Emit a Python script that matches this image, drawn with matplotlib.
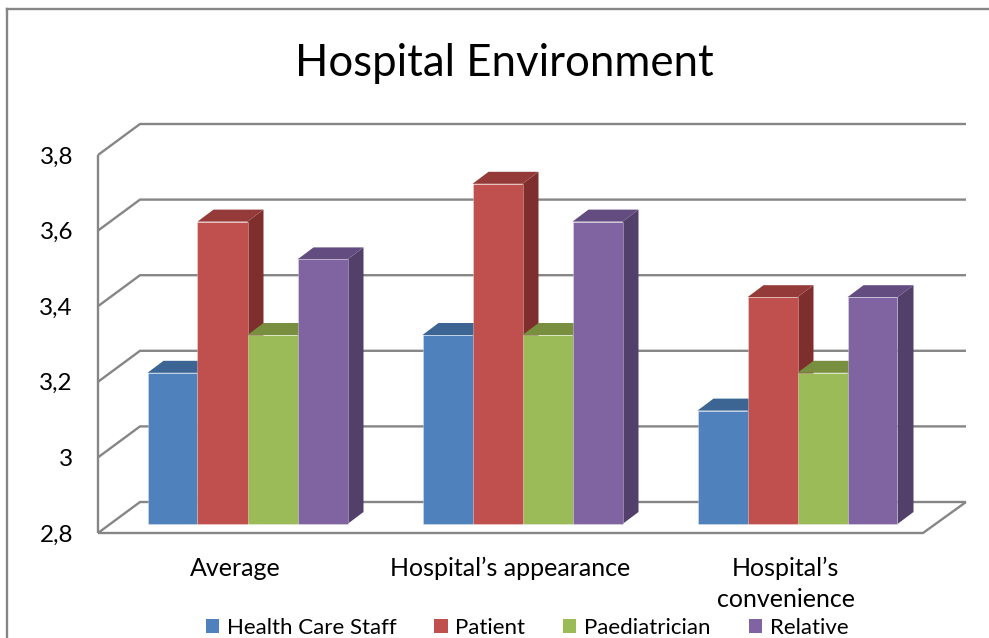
import matplotlib.pyplot as plt
from matplotlib.patches import Polygon, Patch
from matplotlib.lines import Line2D

# survey scores per aspect and respondent group
categories = ["Average", "Hospital\u2019s appearance", "Hospital\u2019s\nconvenience"]
groups = ["Health Care Staff", "Patient", "Paediatrician", "Relative"]
health_staff = [3.2, 3.3, 3.1]
patient = [3.6, 3.7, 3.4]
paediatrician = [3.3, 3.3, 3.2]
relative = [3.5, 3.6, 3.4]
yticks = [2.8, 3.0, 3.2, 3.4, 3.6, 3.8]
ytick_labels = ["2,8", "3", "3,2", "3,4", "3,6", "3,8"]

series = [health_staff, patient, paediatrician, relative]
front_cols = ["#4F81BD", "#C0504D", "#9BBB59", "#8064A2"]
top_cols = ["#3C6594", "#943B39", "#778F3F", "#634C80"]
side_cols = ["#385D8A", "#7E2F2D", "#68803A", "#52406A"]
grid_col = "#868686"

FONT = "Lato"
W, H = 989, 638
fig = plt.figure(figsize=(W / 100, H / 100), dpi=100)
# front plane of the 3d box in pixels: x 98..923, y(2.8)=533, y(3.8)=155
ax = fig.add_axes([98 / W, (H - 533) / H, 825 / W, 378 / H])
ax.set_xlim(-0.5, 2.5)
ax.set_ylim(2.8, 3.8)
for s in ax.spines.values():
    s.set_visible(False)
ax.set_facecolor("none")


def pt(x, y, dx=0, dy=0):
    # data point moved by (dx, dy) screen pixels, back in data units
    X, Y = ax.transData.transform((x, y))
    return ax.transData.inverted().transform((X + dx, Y + dy))


# walls and floor
back = (42, 31)
line_kw = dict(color=grid_col, lw=1.7, solid_capstyle="butt", zorder=1, clip_on=False)
for v in yticks:
    a = pt(-0.5, v)
    b = pt(-0.5, v, *back)
    c = pt(2.5, v, back[0] + 1, back[1])
    ax.plot([a[0], b[0], c[0]], [a[1], b[1], c[1]], **line_kw)
ax.plot([-0.5, -0.5], [2.8, 3.8], **line_kw)
fl = pt(2.5, 2.8, back[0] + 1, back[1])
ax.plot([-0.5, 2.5, fl[0]], [2.8, 2.8, fl[1]], **line_kw)

# bars with top and side faces
bw = 50 / 275
near = (12, 9)
far = (28, 21)
for i in range(len(categories)):
    for j, vals in enumerate(series):
        v = vals[i]
        xl = i + (j - 2) * bw
        xr = xl + bw
        side = [pt(xr, 2.8, *near), pt(xr, v, *near), pt(xr, v, *far), pt(xr, 2.8, *far)]
        top = [pt(xl, v, *near), pt(xr, v, *near), pt(xr, v, *far), pt(xl, v, *far)]
        front = [pt(xl, 2.8, *near), pt(xr, 2.8, *near), pt(xr, v, *near), pt(xl, v, *near)]
        z = 3 + i * 10 + j
        ax.add_patch(Polygon(side, closed=True, fc=side_cols[j], ec="none", zorder=z, clip_on=False))
        ax.add_patch(Polygon(top, closed=True, fc=top_cols[j], ec="none", zorder=z, clip_on=False))
        ax.add_patch(Polygon(front, closed=True, fc=front_cols[j],
                             ec=(1, 1, 1, 0.35), lw=0.6, zorder=z, clip_on=False))

ax.set_yticks(yticks, ytick_labels)
ax.set_xticks(range(len(categories)), categories)
ax.tick_params(axis="both", length=0)
ax.tick_params(axis="y", pad=18)
ax.tick_params(axis="x", pad=17)
for t in ax.get_yticklabels():
    t.set_fontfamily(FONT)
    t.set_fontsize(17.5)
    t.set_color("#000000")
for t in ax.get_xticklabels():
    t.set_fontfamily(FONT)
    t.set_fontsize(18)
    t.set_linespacing(1.4)
    t.set_verticalalignment("top")

fig.text(504 / W, 1 - 63 / H, "Hospital Environment", ha="center", va="center",
         fontsize=31.5, family=FONT)

handles = [Patch(fc=c, ec="none") for c in front_cols]
fig.legend(handles, groups, loc="center", bbox_to_anchor=(527 / W, 1 - 628 / H),
           ncol=4, frameon=False, prop=dict(family=FONT, size=16),
           handlelength=0.6, handleheight=0.6, handletextpad=0.35,
           columnspacing=1.7, borderpad=0)

# chart frame (left and top edges only show)
fig.add_artist(Line2D([7 / W, 7 / W], [0, 1 - 9 / H], transform=fig.transFigure,
                      color="#868686", lw=1.7))
fig.add_artist(Line2D([7 / W, 1], [1 - 9 / H, 1 - 9 / H], transform=fig.transFigure,
                      color="#868686", lw=1.7))

fig.savefig("out.png", dpi=100, facecolor="white")
